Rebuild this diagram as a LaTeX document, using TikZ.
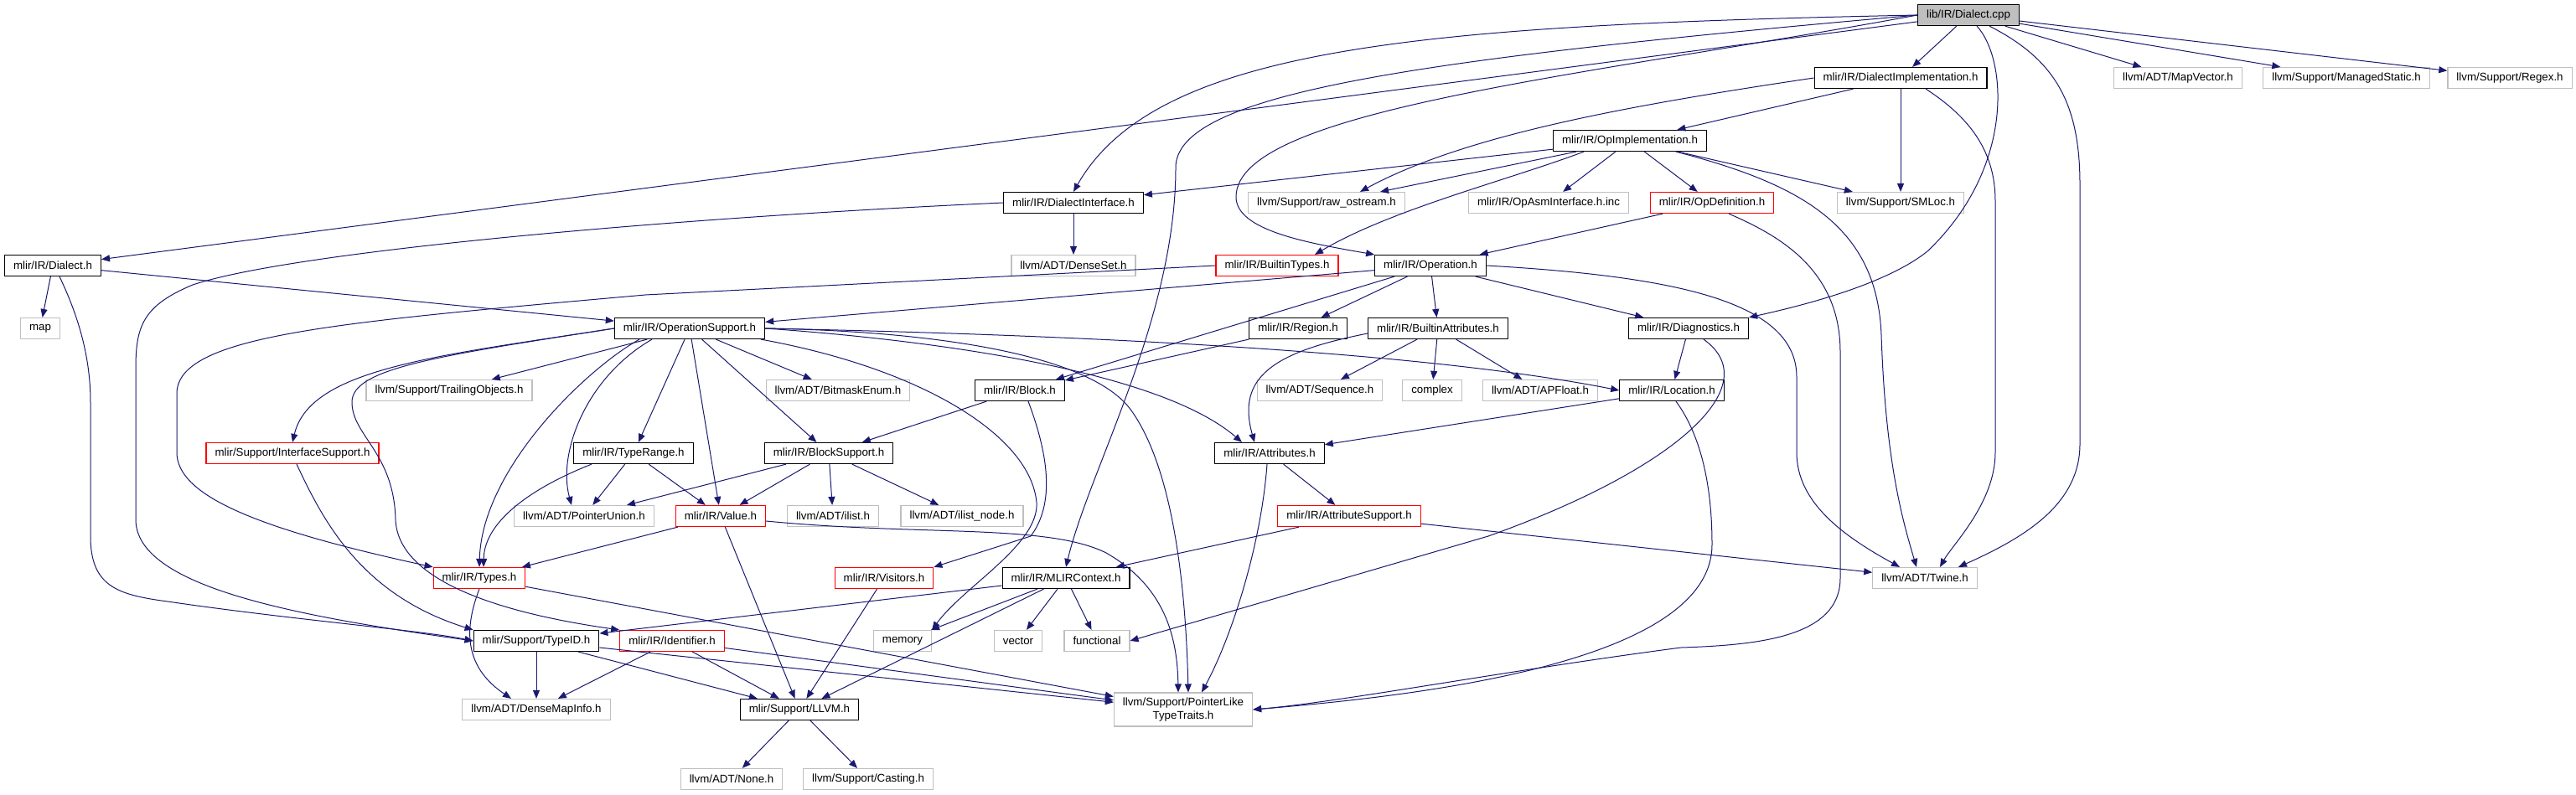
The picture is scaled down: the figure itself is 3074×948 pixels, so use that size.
\documentclass[tikz,border=0pt]{standalone}
\usepackage{fontspec}
\setmainfont{Liberation Sans}
\usetikzlibrary{arrows.meta}
\definecolor{edgeblue}{HTML}{191970}
\definecolor{extgray}{HTML}{BFBFBF}

\begin{document}
\begin{tikzpicture}[x=1pt,y=-1pt,
box/.style={draw=black,line width=1.2pt,inner xsep=10.5pt,inner ysep=0pt,minimum height=25pt,font=\fontsize{13.3}{15.5}\selectfont},
ext/.style={box,draw=extgray},
trunc/.style={box,draw=red},
root/.style={box,fill=extgray},
dep/.style={draw=edgeblue,line width=1pt,-{Triangle[length=10pt,width=8pt]}},
every edge/.style={dep}]
\useasboundingbox (0,0) rectangle (3074,948);
\node[root] (cpp) at (2349,18) {lib/IR/Dialect.cpp};
\node[box] (dimpl) at (2268,93) {mlir/IR/DialectImplementation.h};
\node[ext] (mapvec) at (2599,93) {llvm/ADT/MapVector.h};
\node[ext] (managed) at (2800,93) {llvm/Support/ManagedStatic.h};
\node[ext] (regex) at (2995,93) {llvm/Support/Regex.h};
\node[box] (opimpl) at (1945,168) {mlir/IR/OpImplementation.h};
\node[box] (dinterface) at (1281,242) {mlir/IR/DialectInterface.h};
\node[ext] (rawos) at (1583,242) {llvm/Support/raw\_ostream.h};
\node[ext] (opasm) at (1848,242) {mlir/IR/OpAsmInterface.h.inc};
\node[trunc] (opdef) at (2043,242) {mlir/IR/OpDefinition.h};
\node[ext] (smloc) at (2268,242) {llvm/Support/SMLoc.h};
\node[box] (dialecth) at (63,317) {mlir/IR/Dialect.h};
\node[ext] (denseset) at (1281,317) {llvm/ADT/DenseSet.h};
\node[trunc] (btypes) at (1524,317) {mlir/IR/BuiltinTypes.h};
\node[box] (operation) at (1707,317) {mlir/IR/Operation.h};
\node[ext] (map) at (48,392) {map};
\node[box] (opsupport) at (823,392) {mlir/IR/OperationSupport.h};
\node[box] (region) at (1549,392) {mlir/IR/Region.h};
\node[box] (battrs) at (1716,392) {mlir/IR/BuiltinAttributes.h};
\node[box] (diag) at (2015,392) {mlir/IR/Diagnostics.h};
\node[ext] (trailing) at (536,466) {llvm/Support/TrailingObjects.h};
\node[ext] (bitmask) at (1000,466) {llvm/ADT/BitmaskEnum.h};
\node[box] (block) at (1217,466) {mlir/IR/Block.h};
\node[ext] (sequence) at (1575,466) {llvm/ADT/Sequence.h};
\node[ext] (complex) at (1709,466) {complex};
\node[ext] (apfloat) at (1838,466) {llvm/ADT/APFloat.h};
\node[box] (location) at (1995,466) {mlir/IR/Location.h};
\node[trunc] (interface) at (349,541) {mlir/Support/InterfaceSupport.h};
\node[box] (typerange) at (756,541) {mlir/IR/TypeRange.h};
\node[box] (blocksupport) at (989,541) {mlir/IR/BlockSupport.h};
\node[box] (attrs) at (1515,541) {mlir/IR/Attributes.h};
\node[ext] (ptrunion) at (697,616) {llvm/ADT/PointerUnion.h};
\node[trunc] (value) at (860,616) {mlir/IR/Value.h};
\node[ext] (ilist) at (994,616) {llvm/ADT/ilist.h};
\node[ext] (ilistnode) at (1148,616) {llvm/ADT/ilist\_node.h};
\node[trunc] (attrsupport) at (1610,616) {mlir/IR/AttributeSupport.h};
\node[trunc] (types) at (572,690) {mlir/IR/Types.h};
\node[trunc] (visitors) at (1055,690) {mlir/IR/Visitors.h};
\node[box] (mlirctx) at (1272,690) {mlir/IR/MLIRContext.h};
\node[ext] (twine) at (2297,690) {llvm/ADT/Twine.h};
\node[box] (typeid) at (640,765) {mlir/Support/TypeID.h};
\node[trunc] (identifier) at (802,765) {mlir/IR/Identifier.h};
\node[ext] (memory) at (1077,765) {memory};
\node[ext] (vector) at (1215,765) {vector};
\node[ext] (functional) at (1309,765) {functional};
\node[ext] (densemapinfo) at (640,847) {llvm/ADT/DenseMapInfo.h};
\node[box] (llvm) at (954,847) {mlir/Support/LLVM.h};
\node[ext,align=center,inner ysep=6pt] (ptrlike) at (1412,847) {llvm/Support/PointerLike\\TypeTraits.h};
\node[ext] (none) at (873,930) {llvm/ADT/None.h};
\node[ext] (casting) at (1036,930) {llvm/Support/Casting.h};

\path (cpp) edge (dialecth) edge (dimpl) edge (mapvec) edge (managed) edge (regex);
\path (dimpl) edge (opimpl) edge (smloc);
\path (opimpl) edge (dinterface) edge (rawos) edge (opasm) edge (opdef) edge (smloc);
\path (dinterface) edge (denseset);
\path (dialecth) edge (map) edge (opsupport);
\path (opdef) edge (operation);
\path (operation) edge (opsupport) edge (region) edge (battrs) edge (diag) edge (block);
\path (opsupport) edge (trailing) edge (typerange) edge (value) edge (bitmask) edge (blocksupport);
\path (region) edge (block);
\path (battrs) edge (sequence) edge (complex) edge (apfloat);
\path (diag) edge (location);
\path (block) edge (blocksupport);
\path (location) edge (attrs);
\path (typerange) edge (ptrunion) edge (value);
\path (blocksupport) edge (ptrunion) edge (value) edge (ilist) edge (ilistnode);
\path (attrs) edge (attrsupport);
\path (value) edge (types) edge (llvm);
\path (attrsupport) edge (mlirctx) edge (twine);
\path (types) edge (ptrlike);
\path (visitors) edge (llvm);
\path (mlirctx) edge (typeid) edge (memory) edge (vector) edge (functional) edge (llvm);
\path (typeid) edge (densemapinfo) edge (llvm) edge (ptrlike);
\path (identifier) edge (densemapinfo) edge (llvm) edge (ptrlike);
\path (llvm) edge (none) edge (casting);

\draw[dep] (cpp.west) .. controls (1700,30) and (1380,55) .. (dinterface.north);
\draw[dep] (cpp.west) .. controls (1700,70) and (1403,110) .. (1403,200) .. controls (1403,380) and (1300,560) .. (mlirctx.north);
\draw[dep] (cpp.west) .. controls (1900,90) and (1475,130) .. (1475,235) .. controls (1475,275) and (1560,290) .. (operation.north west);
\draw[dep] ([xshift=10pt]cpp.south) .. controls (2395,70) and (2405,200) .. (2300,300) .. controls (2250,340) and (2150,365) .. (diag.north east);
\draw[dep] ([xshift=25pt]cpp.south) .. controls (2450,70) and (2482,120) .. (2482,220) -- (2482,530) .. controls (2482,600) and (2420,640) .. ([xshift=40pt]twine.north);
\draw[dep] ([xshift=30pt]dimpl.south) .. controls (2350,140) and (2381,180) .. (2381,240) -- (2381,540) .. controls (2381,600) and (2330,650) .. ([xshift=18pt]twine.north);
\draw[dep] (dimpl.west) .. controls (1950,125) and (1750,160) .. ([xshift=40pt]rawos.north);
\draw[dep] ([xshift=55pt]opimpl.south) .. controls (2150,220) and (2240,270) .. (2245,400) .. controls (2250,550) and (2270,620) .. ([xshift=-10pt]twine.north);
\draw[dep] ([xshift=-55pt]opimpl.south) .. controls (1800,215) and (1660,250) .. ([xshift=45pt]btypes.north);
\draw[dep] (operation.east) .. controls (2000,330) and (2144,360) .. (2144,450) -- (2144,540) .. controls (2144,600) and (2200,640) .. ([xshift=-30pt]twine.north);
\draw[dep] ([xshift=20pt]opdef.south) .. controls (2120,280) and (2196,320) .. (2196,420) -- (2196,690) .. controls (2196,760) and (2100,770) .. (2006,773) .. controls (1800,800) and (1600,838) .. (ptrlike.east);
\draw[dep] ([xshift=5pt]location.south) .. controls (2030,520) and (2043,580) .. (2043,650) .. controls (2043,790) and (1700,830) .. (ptrlike.east);
\draw[dep] ([xshift=18pt]diag.south) .. controls (2110,460) and (2000,560) .. (1776,640) -- (functional.east);
\draw[dep] ([xshift=8pt]dialecth.south) .. controls (90,370) and (108,420) .. (108,480) -- (108,640) .. controls (108,700) and (140,710) .. (200,718) .. controls (350,740) and (500,752) .. (typeid.west);
\draw[dep] (dinterface.west) .. controls (800,260) and (350,300) .. (230,340) .. controls (170,365) and (162,390) .. (162,440) -- (162,620) .. controls (162,700) and (350,735) .. (typeid.west);
\draw[dep] (btypes.west) -- (770,352) .. controls (400,385) and (211,400) .. (211,470) -- (211,540) .. controls (211,590) and (300,630) .. (types.north west);
\draw[dep] (opsupport.west) .. controls (520,425) and (370,440) .. (interface.north);
\draw[dep] (opsupport.west) .. controls (520,425) and (420,440) .. (420,480) .. controls (420,520) and (470,540) .. (472,620) .. controls (475,700) and (620,735) .. (identifier.north west);
\draw[dep] ([xshift=-60pt]opsupport.south) .. controls (700,440) and (575,560) .. (types.north);
\draw[dep] ([xshift=-50pt]typerange.south) .. controls (640,580) and (578,620) .. ([xshift=5pt]types.north);
\draw[dep] ([xshift=-45pt]opsupport.south) .. controls (700,450) and (665,540) .. ([xshift=-15pt]ptrunion.north);
\draw[dep] ([xshift=85pt]opsupport.south) .. controls (1100,440) and (1230,520) .. (1237,600) .. controls (1240,650) and (1150,700) .. (memory.north east);
\draw[dep] (opsupport.east) .. controls (1100,395) and (1300,420) .. (1350,490) .. controls (1400,560) and (1415,700) .. ([xshift=6pt]ptrlike.north);
\draw[dep] (opsupport.east) .. controls (1100,405) and (1380,440) .. ([xshift=-33pt]attrs.north);
\draw[dep] (opsupport.east) .. controls (1300,400) and (1700,420) .. (location.west);
\draw[dep] ([xshift=10pt]block.south) .. controls (1250,540) and (1260,600) .. (1230,640) -- (visitors.north east);
\draw[dep] ([yshift=-6pt]value.east) .. controls (1100,640) and (1250,625) .. (1320,660) .. controls (1390,700) and (1405,760) .. ([xshift=-6pt]ptrlike.north);
\draw[dep] ([xshift=-3pt]attrs.south) .. controls (1505,650) and (1470,760) .. ([xshift=22pt]ptrlike.north);
\draw[dep] ([yshift=-6pt]battrs.west) .. controls (1520,420) and (1475,450) .. ([xshift=-18pt]attrs.north);
\draw[dep] ([xshift=5pt]interface.south) .. controls (385,620) and (430,710) .. (typeid.north west);
\draw[dep] (types.south) .. controls (550,760) and (560,800) .. ([xshift=-30pt]densemapinfo.north);
\end{tikzpicture}
\end{document}
